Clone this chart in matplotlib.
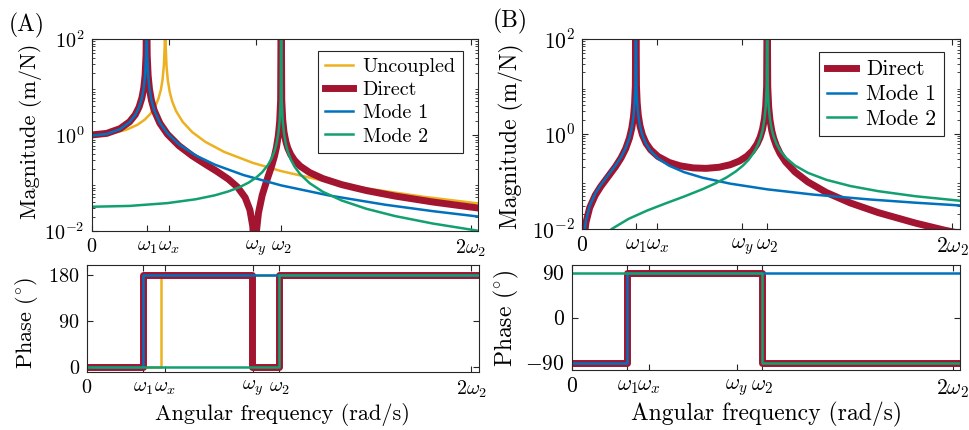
import numpy as np
import matplotlib
matplotlib.use("Agg")
import matplotlib.pyplot as plt

plt.rcParams['font.family'] = 'serif'
plt.rcParams['font.serif'] = ['cmr10', 'DejaVu Serif']
plt.rcParams['mathtext.fontset'] = 'cm'
plt.rcParams['axes.formatter.use_mathtext'] = True
plt.rcParams['axes.unicode_minus'] = False

# frequencies are in units of omega_2
tick_pos = [0, 0.292, 0.406, 0.865, 1.0, 2.0]
tick_lab = ['$0$', r'$\omega_1$', r'$\omega_x$', r'$\omega_y$', r'$\omega_2$', r'$2\omega_2$']
x_max = 2.04

# ---- panel A, magnitude (m/N) ----
a_unc_w = [0, 0.1, 0.18, 0.24, 0.28, 0.31, 0.335, 0.352, 0.365, 0.374, 0.381, 0.385, 0.388,
           0.391, 0.395, 0.402, 0.412, 0.425, 0.445, 0.48, 0.53, 0.6, 0.7, 0.85, 1.0, 1.2,
           1.45, 1.75, 2.04]
a_unc_mag = [1.0, 1.071, 1.274, 1.62, 2.087, 2.767, 3.932, 5.659, 8.712, 14.17, 28.19, 66.15, 1000,
             63.21, 27.24, 13.55, 7.821, 4.996, 3.167, 1.884, 1.154, 0.718, 0.443, 0.263, 0.177, 0.1167,
             0.0771, 0.0517, 0.0375]

a_dir_w = [0, 0.08, 0.15, 0.2, 0.23, 0.25, 0.265, 0.275, 0.282, 0.287, 0.29, 0.293, 0.298, 0.305,
           0.315, 0.33, 0.36, 0.4, 0.46, 0.53, 0.6, 0.66, 0.72, 0.77, 0.81, 0.835, 0.85, 0.858, 0.861,
           0.864, 0.87, 0.88, 0.9, 0.925, 0.95, 0.965, 0.975, 0.985, 0.992, 0.997, 1.0, 1.003, 1.008,
           1.015, 1.025, 1.035, 1.05, 1.07, 1.1, 1.15, 1.22, 1.32, 1.45, 1.6, 1.8, 2.04]
a_dir_mag = [1.002, 1.082, 1.358, 1.883, 2.649, 3.812, 5.915, 9.663, 17.86, 47.18, 1000, 46.63, 17.31, 9.108,
             5.36, 3.254, 1.756, 1.037, 0.5994, 0.3701, 0.2458, 0.1754, 0.1214, 0.0818, 0.0496, 0.0274, 0.0125, 0.00385, 1e-4,
             0.00304, 0.01035, 0.02363, 0.05601, 0.1159, 0.2285, 0.369, 0.5539, 0.9826, 1.917, 5.251, 1000, 5.414, 2.08,
             1.145, 0.7165, 0.532, 0.3923, 0.2977, 0.2249, 0.1651, 0.1236, 0.0923, 0.0695, 0.0535, 0.0402, 0.0301]

a_m1_w = [0, 0.08, 0.15, 0.2, 0.23, 0.25, 0.265, 0.275, 0.282, 0.287, 0.29, 0.293, 0.298, 0.305,
          0.315, 0.33, 0.36, 0.4, 0.46, 0.55, 0.65, 0.8, 1.0, 1.25, 1.55, 1.8, 2.04]
a_m1_mag = [0.97, 1.05, 1.325, 1.85, 2.615, 3.778, 5.881, 9.628, 17.83, 47.14, 1000, 46.66, 17.35, 9.143,
            5.395, 3.29, 1.793, 1.075, 0.64, 0.3736, 0.2411, 0.1468, 0.0891, 0.0552, 0.0352, 0.0259, 0.02]

a_m2_w = [0, 0.2, 0.4, 0.55, 0.65, 0.72, 0.78, 0.83, 0.87, 0.9, 0.93, 0.95, 0.965, 0.975, 0.985, 0.992,
          0.997, 1.0, 1.003, 1.008, 1.015, 1.025, 1.035, 1.05, 1.07, 1.1, 1.15, 1.22, 1.32, 1.45, 1.6, 1.8, 2.04]
a_m2_mag = [0.032, 0.0333, 0.0381, 0.0459, 0.0554, 0.0665, 0.0817, 0.1029, 0.1316, 0.1684, 0.2369, 0.3282, 0.4653,
            0.6481, 1.075, 2.008, 5.341, 1000, 5.325, 1.992, 1.059, 0.6321, 0.4493, 0.3122, 0.2208, 0.1524, 0.0992,
            0.0655, 0.0431, 0.029, 0.0205, 0.0143, 0.0101]

# ---- panel A, phase (deg) at the jumps ----
a_unc_pw = [0, 0.388, x_max]
a_unc_ph = [0, 180, 180]
a_dir_pw = [0, 0.29, 0.861, 1.0, x_max]
a_dir_ph = [0, 180, 0, 180, 180]
a_m1_pw = [0, 0.29, x_max]
a_m1_ph = [0, 180, 180]
a_m2_pw = [0, 1.0, x_max]
a_m2_ph = [0, 180, 180]

# ---- panel B, magnitude ----
b_dir_w = [0.002, 0.01, 0.02, 0.04, 0.07, 0.1, 0.14, 0.18, 0.21, 0.235, 0.255, 0.268, 0.277, 0.283, 0.287, 0.29,
           0.293, 0.297, 0.303, 0.312, 0.325, 0.345, 0.37, 0.41, 0.47, 0.53, 0.6, 0.67, 0.74, 0.8, 0.85, 0.89,
           0.92, 0.945, 0.962, 0.975, 0.985, 0.992, 0.997, 1.0, 1.003, 1.008, 1.015, 1.025, 1.035, 1.05, 1.07,
           1.1, 1.15, 1.22, 1.32, 1.45, 1.6, 1.8, 1.95, 2.04]
b_dir_mag = [0.00135, 0.00678, 0.0136, 0.0276, 0.0506, 0.0776, 0.1259, 0.2046, 0.3122, 0.4896, 0.8123, 1.336, 2.312, 4.355, 10.26, 1000,
             10.41, 4.501, 2.457, 1.482, 0.9581, 0.6362, 0.4604, 0.3324, 0.2494, 0.2115, 0.1915, 0.1873, 0.1978, 0.2235, 0.2676, 0.3365,
             0.4366, 0.606, 0.8502, 1.2625, 2.067, 3.828, 10.12, 1000, 10.01, 3.723, 1.962, 1.157, 0.8127, 0.5548, 0.3835,
             0.2558, 0.1578, 0.097, 0.058, 0.0349, 0.0219, 0.0132, 0.0095, 0.008]

b_m1_w = [0.002, 0.01, 0.02, 0.04, 0.07, 0.1, 0.14, 0.18, 0.21, 0.235, 0.255, 0.268, 0.277, 0.283, 0.287, 0.29,
          0.293, 0.297, 0.303, 0.312, 0.325, 0.345, 0.37, 0.41, 0.47, 0.55, 0.65, 0.8, 1.0, 1.25, 1.55, 1.8, 2.04]
b_m1_mag = [0.00148, 0.00738, 0.0148, 0.0301, 0.0548, 0.0837, 0.1346, 0.2159, 0.3255, 0.5046, 0.8288, 1.354, 2.33, 4.374, 10.28, 1000,
            10.39, 4.481, 2.437, 1.461, 0.9361, 0.6125, 0.4345, 0.3026, 0.213, 0.1561, 0.1191, 0.0892, 0.0677, 0.0524, 0.0415, 0.0354, 0.031]

b_m2_w = [0.1, 0.16, 0.25, 0.35, 0.45, 0.55, 0.65, 0.72, 0.78, 0.83, 0.87, 0.9, 0.93, 0.95, 0.965, 0.975, 0.985,
          0.992, 0.997, 1.0, 1.003, 1.008, 1.015, 1.025, 1.035, 1.05, 1.07, 1.1, 1.15, 1.22, 1.32, 1.45, 1.6, 1.8, 2.04]
b_m2_mag = [0.0061, 0.00992, 0.0161, 0.0241, 0.0341, 0.0476, 0.068, 0.0903, 0.1203, 0.1611, 0.2162, 0.2861, 0.4158, 0.5885,
            0.8475, 1.193, 1.998, 3.76, 10.05, 1000, 10.08, 3.79, 2.028, 1.223, 0.8777, 0.6187, 0.446, 0.3164, 0.2154,
            0.1509, 0.1074, 0.0794, 0.062, 0.0485, 0.039]

# ---- panel B, phase ----
b_dir_pw = [0, 0.29, 1.0, x_max]
b_dir_ph = [-90, 90, -90, -90]
b_m1_pw = [0, 0.29, x_max]
b_m1_ph = [-90, 90, 90]
b_m2_pw = [0, 1.0, x_max]
b_m2_ph = [90, -90, -90]

c_unc = '#EDB120'
c_dir = '#A2142F'
c_m1 = '#0072BD'
c_m2 = '#12A070'
lw_thin = 1.8
lw_dir = 5.0
edge = '#262626'


def style_axes(ax, fs):
    ax.set_xlim(0, x_max)
    ax.set_xticks(tick_pos, tick_lab)
    ax.tick_params(which='both', direction='in', top=True, right=True, color=edge,
                   labelsize=fs, pad=5)
    ax.tick_params(which='major', length=4)
    ax.tick_params(which='minor', length=2)
    for s in ax.spines.values():
        s.set_color(edge)
        s.set_linewidth(0.8)


def mag_axes(ax, fs):
    ax.set_yscale('log')
    ax.set_ylim(1e-2, 1e2)
    ax.set_yticks([1e-2, 1, 1e2], [r'$10^{-2}$', r'$10^{0}$', r'$10^{2}$'])
    style_axes(ax, fs)


fig = plt.figure(figsize=(9.69, 4.30), dpi=100)

# ---------------- panel A ----------------
fsA, flA = 14.5, 16
axA = fig.add_axes([0.0946, 0.4628, 0.399, 0.4465])
axA.plot(a_unc_w, a_unc_mag, color=c_unc, lw=lw_thin, label='Uncoupled')
axA.plot(a_dir_w, a_dir_mag, color=c_dir, lw=lw_dir, label='Direct', solid_joinstyle='round')
axA.plot(a_m1_w, a_m1_mag, color=c_m1, lw=lw_thin, label='Mode 1')
axA.plot(a_m2_w, a_m2_mag, color=c_m2, lw=lw_thin, label='Mode 2')
mag_axes(axA, fsA)
axA.set_ylabel('Magnitude (m/N)', fontsize=flA)
axA.yaxis.set_label_coords(-0.128, 0.52)
leg = axA.legend(loc='upper right', bbox_to_anchor=(0.96, 0.9375), borderaxespad=0,
                 fancybox=False, edgecolor=edge, framealpha=1, fontsize=fsA,
                 handlelength=1.35, handletextpad=0.5, labelspacing=0.25, borderpad=0.35)
leg.get_frame().set_linewidth(0.8)

axAp = fig.add_axes([0.0895, 0.1356, 0.4049, 0.2481])
axAp.plot(a_unc_pw, a_unc_ph, color=c_unc, lw=lw_thin, drawstyle='steps-post')
axAp.plot(a_dir_pw, a_dir_ph, color=c_dir, lw=lw_dir, drawstyle='steps-post', solid_joinstyle='round')
axAp.plot(a_m1_pw, a_m1_ph, color=c_m1, lw=lw_thin, drawstyle='steps-post')
axAp.plot(a_m2_pw, a_m2_ph, color=c_m2, lw=lw_thin, drawstyle='steps-post')
axAp.set_ylim(-10, 200)
axAp.set_yticks([0, 90, 180], ['$0$', '$90$', '$180$'])
style_axes(axAp, fsA)
axAp.set_ylabel(r'Phase $(^{\circ})$', fontsize=flA)
axAp.yaxis.set_label_coords(-0.119, 0.46)
axAp.set_xlabel('Angular frequency (rad/s)', fontsize=flA, labelpad=2)

# ---------------- panel B ----------------
fsB, flB = 15.5, 17
axB = fig.add_axes([0.6009, 0.4681, 0.3893, 0.4412])
axB.plot(b_dir_w, b_dir_mag, color=c_dir, lw=lw_dir, label='Direct', solid_joinstyle='round')
axB.plot(b_m1_w, b_m1_mag, color=c_m1, lw=lw_thin, label='Mode 1')
axB.plot(b_m2_w, b_m2_mag, color=c_m2, lw=lw_thin, label='Mode 2')
mag_axes(axB, fsB)
axB.set_ylabel('Magnitude (m/N)', fontsize=flB)
axB.yaxis.set_label_coords(-0.155, 0.49)
leg = axB.legend(loc='upper right', bbox_to_anchor=(0.959, 0.931), borderaxespad=0,
                 fancybox=False, edgecolor=edge, framealpha=1, fontsize=fsB,
                 handlelength=1.35, handletextpad=0.5, labelspacing=0.25, borderpad=0.35)
leg.get_frame().set_linewidth(0.8)

axBp = fig.add_axes([0.590, 0.1395, 0.4012, 0.2442])
axBp.plot(b_dir_pw, b_dir_ph, color=c_dir, lw=lw_dir, drawstyle='steps-post', solid_joinstyle='round')
axBp.plot(b_m1_pw, b_m1_ph, color=c_m1, lw=lw_thin, drawstyle='steps-post')
axBp.plot(b_m2_pw, b_m2_ph, color=c_m2, lw=lw_thin, drawstyle='steps-post')
axBp.set_ylim(-105, 105)
axBp.set_yticks([-90, 0, 90], ['$-90$', '$0$', '$90$'])
style_axes(axBp, fsB)
axBp.set_ylabel(r'Phase $(^{\circ})$', fontsize=flB)
axBp.yaxis.set_label_coords(-0.130, 0.49)
axBp.set_xlabel('Angular frequency (rad/s)', fontsize=flB, labelpad=2)

fig.text(0.028, 0.94, '(A)', fontsize=17, ha='center', va='center')
fig.text(0.527, 0.95, '(B)', fontsize=17, ha='center', va='center')

fig.savefig('out.png', dpi=100)
